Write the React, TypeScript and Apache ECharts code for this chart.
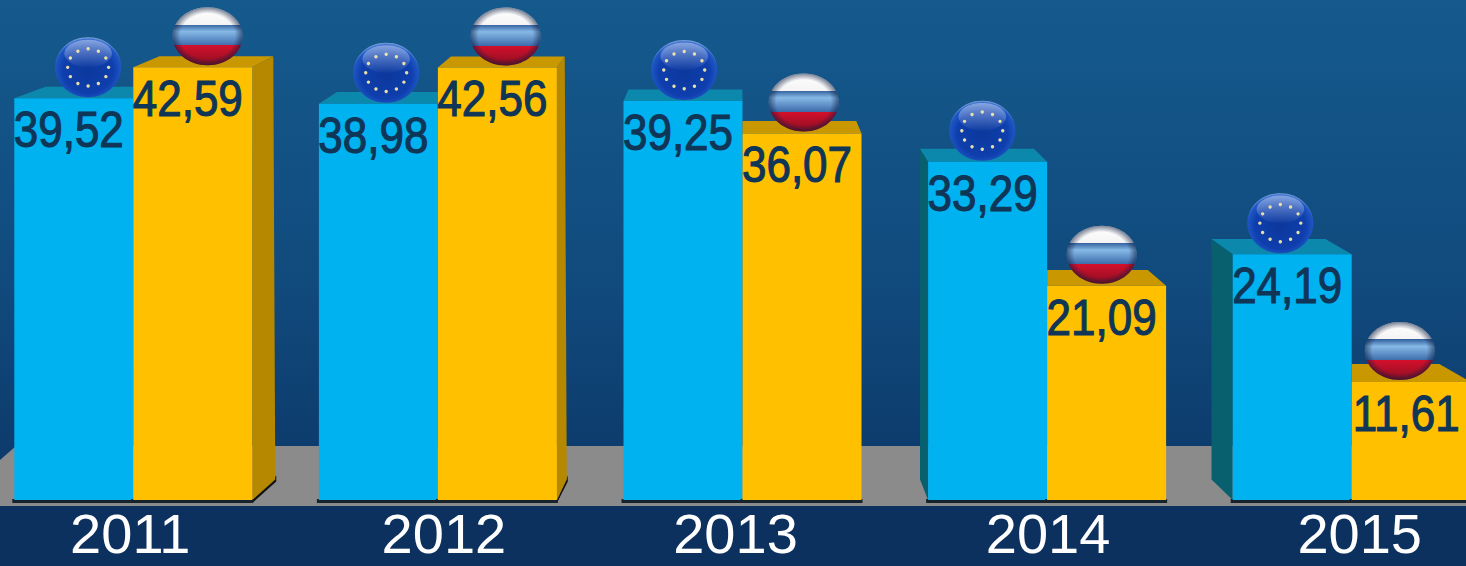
import React, { useEffect, useRef } from "react";
import * as echarts from "echarts";

const years = ["2011", "2012", "2013", "2014", "2015"];
const euValues = [39.52, 38.98, 39.25, 33.29, 24.19];
const ruValues = [42.59, 42.56, 36.07, 21.09, 11.61];

const VANISH_X = 740;
const PERSPECTIVE = 0.043;

const palette = {
  eu: { front: "#00b2f0", top: "#0c88ad", side: "#08606f" },
  ru: { front: "#ffc000", top: "#c99700", side: "#b58800" },
};

const ink = "#0f3557";

function flagEU(cx: number, cy: number) {
  const rx = 33, ry = 30;
  const children: any[] = [
    {
      type: "ellipse",
      shape: { cx, cy, rx, ry },
      style: {
        fill: new echarts.graphic.RadialGradient(0.5, 0.55, 0.55, [
          { offset: 0, color: "#0c389c" },
          { offset: 0.7, color: "#0f3fae" },
          { offset: 0.92, color: "#2058c6" },
          { offset: 1, color: "#7fa8e0" },
        ]),
      },
    },
    {
      type: "ellipse",
      shape: { cx, cy: cy - ry * 0.46, rx: rx * 0.72, ry: ry * 0.46 },
      style: {
        fill: new echarts.graphic.LinearGradient(0, 0, 0, 1, [
          { offset: 0, color: "rgba(215,228,245,0.55)" },
          { offset: 1, color: "rgba(215,228,245,0.02)" },
        ]),
      },
    },
  ];
  for (let i = 0; i < 12; i++) {
    const a = (i * Math.PI) / 6;
    children.push({
      type: "circle",
      shape: { cx: cx + Math.cos(a) * rx * 0.62, cy: cy + Math.sin(a) * ry * 0.62, r: 1.7 },
      style: { fill: "#e8e0a8" },
    });
  }
  return children;
}

function flagRU(cx: number, cy: number) {
  const rx = 35, ry = 29;
  return [
    {
      type: "ellipse",
      shape: { cx, cy, rx, ry },
      style: {
        fill: new echarts.graphic.LinearGradient(0, 0, 0, 1, [
          { offset: 0, color: "#ffffff" },
          { offset: 0.3, color: "#f4f4f4" },
          { offset: 0.3, color: "#34629f" },
          { offset: 0.42, color: "#86b9e6" },
          { offset: 0.66, color: "#3e6cab" },
          { offset: 0.66, color: "#d4102c" },
          { offset: 1, color: "#8c0f22" },
        ]),
      },
    },
    {
      type: "ellipse",
      shape: { cx, cy, rx, ry },
      style: {
        fill: new echarts.graphic.RadialGradient(0.5, 0.5, 0.5, [
          { offset: 0, color: "rgba(10,25,60,0)" },
          { offset: 0.78, color: "rgba(10,25,60,0)" },
          { offset: 1, color: "rgba(10,25,60,0.55)" },
        ]),
      },
    },
  ];
}

function barRenderer(kind: "eu" | "ru", values: number[]) {
  const c = palette[kind];
  return (params: any, api: any) => {
    const i = params.dataIndex;
    const v = values[i];
    const [center, yTop] = api.coord([i, v]);
    const [, yBase] = api.coord([i, 0]);
    const w = 119;
    const x0 = kind === "eu" ? center - w : center;
    const x1 = x0 + w;
    const backDx = (x: number) => (VANISH_X - x) * PERSPECTIVE;
    const backDy = (y: number) => 11 + (y - 69) * 0.022;
    const dyT = backDy(yTop), dyB = backDy(yBase);
    const lBack = x0 + backDx(x0), rBack = x1 + backDx(x1);
    const lClamped = kind === "ru" ? Math.max(x0, lBack) : lBack;
    const rClamped = kind === "eu" ? Math.min(x1, rBack) : rBack;
    const children: any[] = [];
    if (kind === "ru" && rBack > x1) {
      children.push(
        { type: "polygon", shape: { points: [[x1, yBase + 3], [rBack + 3, yBase - dyB + 2], [rBack + 3, yBase - dyB - 4], [x1, yBase]] }, style: { fill: "#111" } },
        { type: "polygon", shape: { points: [[x1, yTop], [rBack, yTop - dyT], [rBack + 2, yBase - dyB], [x1, yBase]] }, style: { fill: c.side } }
      );
    }
    if (kind === "eu" && lBack < x0) {
      children.push({ type: "polygon", shape: { points: [[x0, yTop], [lBack, yTop - dyT], [lBack, yBase - dyB], [x0, yBase]] }, style: { fill: c.side } });
    }
    children.push(
      { type: "rect", shape: { x: x0 - 2, y: yBase - 1, width: w + 3, height: 4 }, style: { fill: "#17232c" } },
      { type: "polygon", shape: { points: [[x0, yTop], [lClamped, yTop - dyT], [rClamped, yTop - dyT], [x1, yTop]] }, style: { fill: c.top } },
      { type: "rect", shape: { x: x0, y: yTop, width: w, height: yBase - yTop }, style: { fill: c.front } }
    );
    const fx = (x0 + x1) / 2 + backDx((x0 + x1) / 2) / 2;
    if (kind === "eu") children.push(...flagEU(fx, yTop - 31));
    else children.push(...flagRU(fx + 3, yTop - 31));
    children.push({
      type: "text",
      x: (x0 + x1) / 2 - 5,
      y: yTop + 32,
      scaleY: 1.12,
      style: {
        x: 0,
        y: 0,
        text: v.toFixed(2).replace(".", ","),
        fill: ink,
        stroke: ink,
        lineWidth: 1,
        fontFamily: "Liberation Sans",
        fontSize: 44,
        align: "center",
        verticalAlign: "middle",
      },
    });
    return { type: "group", children };
  };
}

const yearShift = [-3, 6, -7, 1, 8];
const yearData = years.map((y, i) => ({
  value: y,
  textStyle: {
    padding: yearShift[i] > 0 ? [0, 0, 0, yearShift[i] * 2] : [0, -yearShift[i] * 2, 0, 0],
  },
}));

export default function App() {
  const ref = useRef<HTMLDivElement>(null);
  useEffect(() => {
    document.body.style.margin = "0";
    const chart = echarts.init(ref.current!, undefined, { renderer: "svg" });
    chart.setOption({
      animation: false,
      backgroundColor: new echarts.graphic.LinearGradient(0, 0, 0, 1, [
        { offset: 0, color: "#155a8d" },
        { offset: 0.5, color: "#114a7d" },
        { offset: 0.89, color: "#0c3768" },
        { offset: 1, color: "#0c3768" },
      ]),
      grid: { left: -19, right: -38, top: 2, bottom: 66, outerBoundsMode: "none" },
      graphic: [
        {
          type: "polygon",
          z: 0,
          silent: true,
          shape: { points: [[0, 460], [16, 446], [1466, 446], [1466, 506], [0, 506]] },
          style: { fill: "#8b8b8b" },
        },
        {
          type: "rect",
          z: 0,
          silent: true,
          shape: { x: 0, y: 506, width: 1466, height: 60 },
          style: { fill: "#0d315e" },
        },
      ],
      xAxis: {
        type: "category",
        data: yearData,
        axisLine: { show: false },
        axisTick: { show: false },
        splitLine: { show: false },
        axisLabel: {
          color: "#ffffff",
          fontFamily: "Liberation Sans",
          fontSize: 56,
          margin: 5,
          lineHeight: 56,
        },
      },
      yAxis: { type: "value", min: 0, max: 49, show: false, splitLine: { show: false } },
      series: [
        {
          type: "custom",
          name: "EU",
          z: 3,
          clip: false,
          data: euValues,
          renderItem: barRenderer("eu", euValues),
        },
        {
          type: "custom",
          name: "Russia",
          z: 4,
          clip: false,
          data: ruValues,
          renderItem: barRenderer("ru", ruValues),
        },
      ],
    });
    return () => chart.dispose();
  }, []);
  return <div ref={ref} style={{ position: "fixed", left: 0, top: 0, width: 1466, height: 566 }} />;
}
